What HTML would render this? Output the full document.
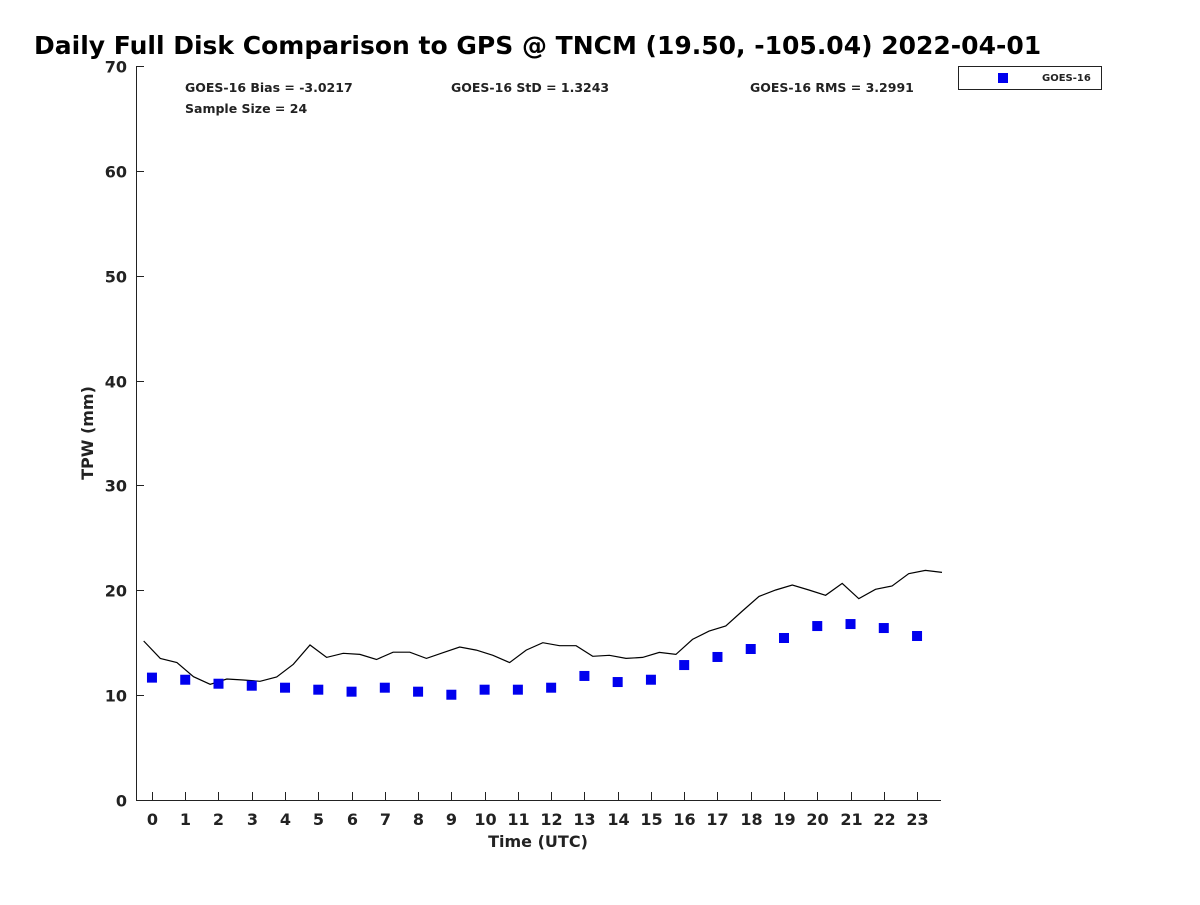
<!DOCTYPE html>
<html><head><meta charset="utf-8"><style>
body{margin:0;background:#fff;}
text{font-family:"DejaVu Sans","Liberation Sans",sans-serif;font-weight:bold;}
</style></head><body>
<svg id="chart" width="1200" height="900" xmlns="http://www.w3.org/2000/svg">
<rect width="1200" height="900" fill="#fff"/>
<text x="34" y="54" font-size="25" fill="#000">Daily Full Disk Comparison to GPS @ TNCM (19.50, -105.04) 2022-04-01</text>
<text x="185" y="92" font-size="12.5" fill="#222">GOES-16 Bias = -3.0217</text>
<text x="451" y="92" font-size="12.5" fill="#222">GOES-16 StD = 1.3243</text>
<text x="750" y="92" font-size="12.5" fill="#222">GOES-16 RMS = 3.2991</text>
<text x="185" y="113" font-size="12.5" fill="#222">Sample Size = 24</text>
<g id="axes"></g>
<g id="marks"></g>
<g>
<rect x="958.5" y="66.5" width="143" height="23" fill="#fff" stroke="#222"/>
<rect x="998" y="73" width="10" height="10" fill="#0000ee"/>
<text x="1042" y="81" font-size="10" fill="#222">GOES-16</text>
</g>
<text transform="translate(93,433) rotate(-90)" text-anchor="middle" font-size="16" fill="#222">TPW (mm)</text>
<text x="538" y="847" text-anchor="middle" font-size="16" fill="#222">Time (UTC)</text>
</svg>
<script>
const hours = [0,1,2,3,4,5,6,7,8,9,10,11,12,13,14,15,16,17,18,19,20,21,22,23];
const goesValues = [11.67,11.47,11.09,10.9,10.71,10.52,10.33,10.71,10.33,10.04,10.52,10.52,10.71,11.83,11.25,11.47,12.87,13.64,14.4,15.45,16.59,16.78,16.4,15.64];
const gpsStartHour = -0.25;
const gpsStepHours = 0.5;
const gpsValues = [15.16,13.5,13.1,11.76,11.03,11.54,11.44,11.32,11.73,12.94,14.78,13.6,13.99,13.89,13.4,14.1,14.1,13.5,14.05,14.59,14.3,13.8,13.1,14.3,15.0,14.72,14.72,13.7,13.8,13.5,13.6,14.08,13.89,15.32,16.11,16.59,18.02,19.42,20.03,20.5,20.03,19.52,20.66,19.2,20.09,20.41,21.58,21.9,21.71];
const yTicks = [0,10,20,30,40,50,60,70];
const xTickLabels = ["0","1","2","3","4","5","6","7","8","9","10","11","12","13","14","15","16","17","18","19","20","21","22","23"];

const NS = "http://www.w3.org/2000/svg";
const X0 = 136, X1 = 941, Y0 = 800, Y1 = 66;
const xMin = -0.48, xMax = 23.72, yMin = 0, yMax = 70;
function xs(v){return X0 + (v - xMin) / (xMax - xMin) * (X1 - X0);}
function ys(v){return Y0 - (v - yMin) / (yMax - yMin) * (Y0 - Y1);}
function mk(tag, attrs, parent){const e=document.createElementNS(NS,tag);for(const k in attrs)e.setAttribute(k,attrs[k]);parent.appendChild(e);return e;}

const axes = document.getElementById("axes");
const marks = document.getElementById("marks");
let a = mk("line",{x1:X0+0.5,y1:Y1,x2:X0+0.5,y2:Y0+0.5,stroke:"#222"},axes);


a = mk("line",{x1:X0,y1:Y0+0.5,x2:X1,y2:Y0+0.5,stroke:"#222"},axes);


yTicks.forEach(v=>{
  const y = Math.round(ys(v))+0.5;
  const t = mk("line",{x1:X0,y1:y,x2:X0+8,y2:y,stroke:"#222"},axes);
  
  
  const l = mk("text",{x:X0-9,y:y+6,"text-anchor":"end","font-size":"16",fill:"#222"},axes);
  l.textContent = v;
  
  
});
hours.forEach((h,i)=>{
  const x = Math.round(xs(h))+0.5;
  const t = mk("line",{x1:x,y1:Y0,x2:x,y2:Y0-8,stroke:"#222"},axes);
  
  
  const l = mk("text",{x:x,y:Y0+25,"text-anchor":"middle","font-size":"16",fill:"#222"},axes);
  l.textContent = xTickLabels[i];
  
  
});
const pts = gpsValues.map((v,i)=>xs(gpsStartHour+i*gpsStepHours).toFixed(1)+","+ys(v).toFixed(1)).join(" ");
const line = mk("polyline",{points:pts,fill:"none",stroke:"#000","stroke-width":"1.2"},marks);


goesValues.forEach((v,i)=>{
  const r = mk("rect",{x:xs(hours[i])-5,y:ys(v)-5,width:10,height:10,fill:"#0000ee"},marks);
  
  
});
</script>
</body></html>
